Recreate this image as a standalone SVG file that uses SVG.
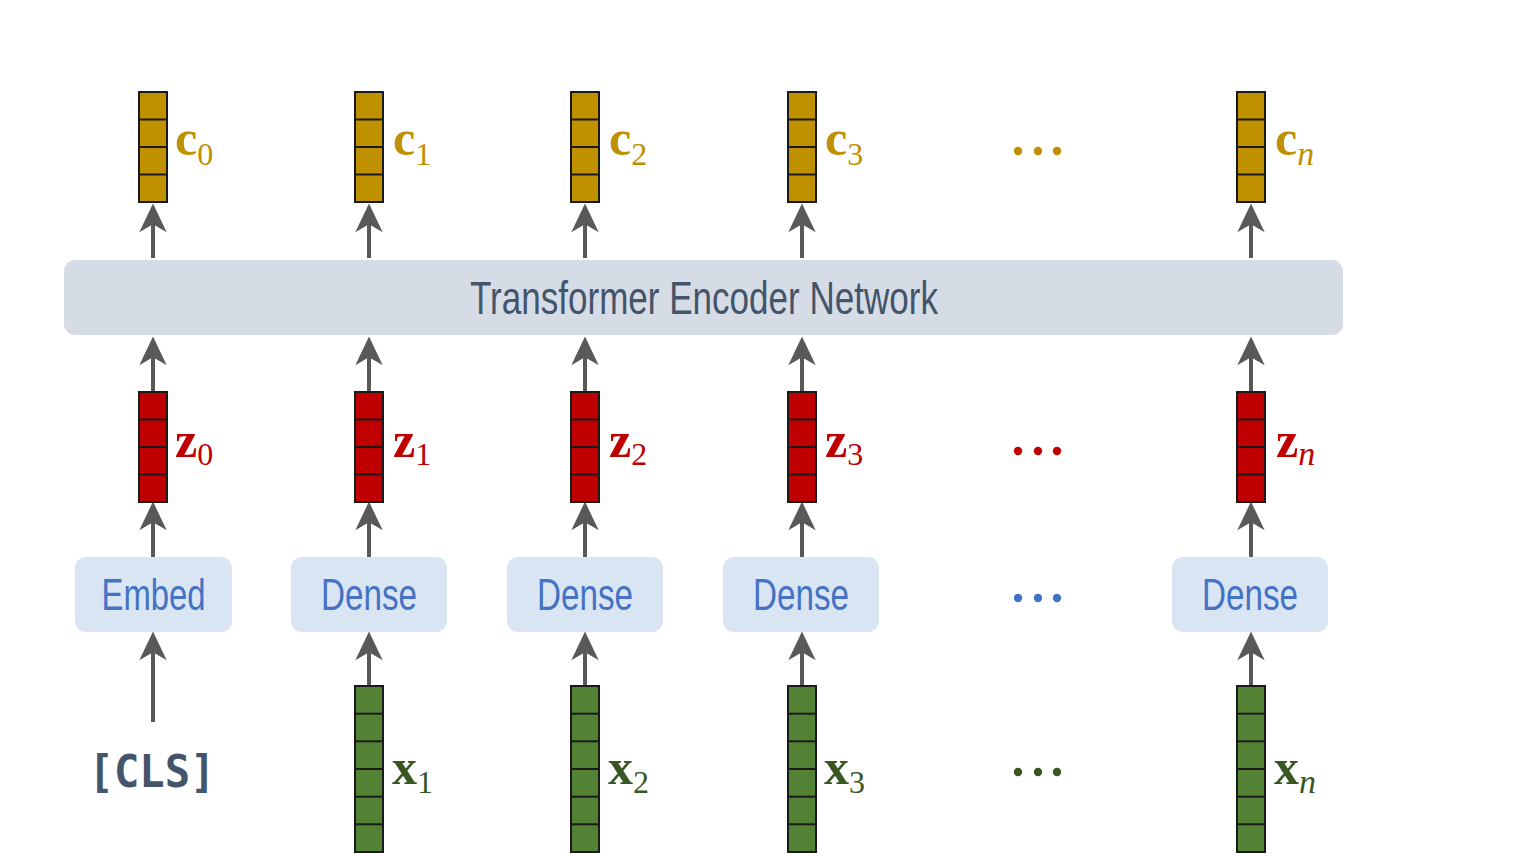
<svg xmlns="http://www.w3.org/2000/svg" width="1536" height="856" viewBox="0 0 1536 856">
<style>
.arrow{stroke:#595959;stroke-width:4;fill:none;marker-end:url(#ah)}
.cvec{fill:#bf9000;stroke:#1a1a1a;stroke-width:2}
.zvec{fill:#c00000;stroke:#1a1a1a;stroke-width:2}
.xvec{fill:#548235;stroke:#1a1a1a;stroke-width:2}
.cell{stroke:#1a1a1a;stroke-width:2}
.lbl{font-family:"Liberation Serif",serif;font-weight:bold;font-size:50px}
.sub{font-family:"Liberation Serif",serif;font-weight:normal;font-size:32px}
.subi{font-family:"Liberation Serif",serif;font-weight:normal;font-style:italic;font-size:34px}
.box{fill:#dae5f4}
.boxtxt{font-family:"Liberation Sans",sans-serif;font-size:44px;fill:#4472c4;text-anchor:middle}
</style>
<defs>
<marker id="ah" markerUnits="userSpaceOnUse" orient="auto" refX="0" refY="0" markerWidth="40" markerHeight="40" viewBox="-20 -15 35 30" overflow="visible">
<path d="M10,0 L-15,-12 L-8,0 L-15,12 Z" fill="#595959"/>
</marker>
<g id="vec4">
<line class="cell" x1="0" y1="27.5" x2="28" y2="27.5"/>
<line class="cell" x1="0" y1="55" x2="28" y2="55"/>
<line class="cell" x1="0" y1="82.5" x2="28" y2="82.5"/>
</g>
<g id="vec6">
<line class="cell" x1="0" y1="27.7" x2="28" y2="27.7"/>
<line class="cell" x1="0" y1="55.3" x2="28" y2="55.3"/>
<line class="cell" x1="0" y1="83" x2="28" y2="83"/>
<line class="cell" x1="0" y1="110.7" x2="28" y2="110.7"/>
<line class="cell" x1="0" y1="138.3" x2="28" y2="138.3"/>
</g>
</defs>
<rect width="1536" height="856" fill="#ffffff"/>

<g id="connectors">
<line class="arrow" x1="153" y1="258" x2="153" y2="215"/>
<line class="arrow" x1="369" y1="258" x2="369" y2="215"/>
<line class="arrow" x1="585" y1="258" x2="585" y2="215"/>
<line class="arrow" x1="802" y1="258" x2="802" y2="215"/>
<line class="arrow" x1="1251" y1="258" x2="1251" y2="215"/>

<line class="arrow" x1="153" y1="392" x2="153" y2="348"/>
<line class="arrow" x1="369" y1="392" x2="369" y2="348"/>
<line class="arrow" x1="585" y1="392" x2="585" y2="348"/>
<line class="arrow" x1="802" y1="392" x2="802" y2="348"/>
<line class="arrow" x1="1251" y1="392" x2="1251" y2="348"/>

<line class="arrow" x1="153" y1="557" x2="153" y2="513"/>
<line class="arrow" x1="369" y1="557" x2="369" y2="513"/>
<line class="arrow" x1="585" y1="557" x2="585" y2="513"/>
<line class="arrow" x1="802" y1="557" x2="802" y2="513"/>
<line class="arrow" x1="1251" y1="557" x2="1251" y2="513"/>

<line class="arrow" x1="153" y1="722" x2="153" y2="643"/>
<line class="arrow" x1="369" y1="686" x2="369" y2="643"/>
<line class="arrow" x1="585" y1="686" x2="585" y2="643"/>
<line class="arrow" x1="802" y1="686" x2="802" y2="643"/>
<line class="arrow" x1="1251" y1="686" x2="1251" y2="643"/>
</g>

<g id="transformer">
<rect x="64" y="260" width="1279" height="75" rx="11" fill="#d6dce5"/>
<text x="704" y="314" font-family="Liberation Sans, sans-serif" font-size="46" fill="#44546a" text-anchor="middle" textLength="468" lengthAdjust="spacingAndGlyphs">Transformer Encoder Network</text>
</g>

<!-- c vectors -->
<g id="c0"><rect class="cvec" x="139" y="92" width="28" height="110"/><use href="#vec4" x="139" y="92"/>
<text class="lbl" x="175" y="155" fill="#bf9000">c<tspan class="sub" dy="10">0</tspan></text></g>
<g id="c1"><rect class="cvec" x="355" y="92" width="28" height="110"/><use href="#vec4" x="355" y="92"/>
<text class="lbl" x="393" y="155" fill="#bf9000">c<tspan class="sub" dy="10">1</tspan></text></g>
<g id="c2"><rect class="cvec" x="571" y="92" width="28" height="110"/><use href="#vec4" x="571" y="92"/>
<text class="lbl" x="609" y="155" fill="#bf9000">c<tspan class="sub" dy="10">2</tspan></text></g>
<g id="c3"><rect class="cvec" x="788" y="92" width="28" height="110"/><use href="#vec4" x="788" y="92"/>
<text class="lbl" x="825" y="155" fill="#bf9000">c<tspan class="sub" dy="10">3</tspan></text></g>
<g id="cn"><rect class="cvec" x="1237" y="92" width="28" height="110"/><use href="#vec4" x="1237" y="92"/>
<text class="lbl" x="1275" y="155" fill="#bf9000">c<tspan class="subi" dy="10">n</tspan></text></g>
<g id="cdots" fill="#bf9000"><circle cx="1018" cy="151" r="4.2"/><circle cx="1038" cy="151" r="4.2"/><circle cx="1057" cy="151" r="4.2"/></g>

<!-- z vectors -->
<g id="z0"><rect class="zvec" x="139" y="392" width="28" height="110"/><use href="#vec4" x="139" y="392"/>
<text class="lbl" x="175" y="457" fill="#c00000">z<tspan class="sub" dy="8">0</tspan></text></g>
<g id="z1"><rect class="zvec" x="355" y="392" width="28" height="110"/><use href="#vec4" x="355" y="392"/>
<text class="lbl" x="393" y="457" fill="#c00000">z<tspan class="sub" dy="8">1</tspan></text></g>
<g id="z2"><rect class="zvec" x="571" y="392" width="28" height="110"/><use href="#vec4" x="571" y="392"/>
<text class="lbl" x="609" y="457" fill="#c00000">z<tspan class="sub" dy="8">2</tspan></text></g>
<g id="z3"><rect class="zvec" x="788" y="392" width="28" height="110"/><use href="#vec4" x="788" y="392"/>
<text class="lbl" x="825" y="457" fill="#c00000">z<tspan class="sub" dy="8">3</tspan></text></g>
<g id="zn"><rect class="zvec" x="1237" y="392" width="28" height="110"/><use href="#vec4" x="1237" y="392"/>
<text class="lbl" x="1276" y="457" fill="#c00000">z<tspan class="subi" dy="8">n</tspan></text></g>
<g id="zdots" fill="#c00000"><circle cx="1018" cy="451" r="4.2"/><circle cx="1038" cy="451" r="4.2"/><circle cx="1057" cy="451" r="4.2"/></g>

<!-- embed / dense boxes -->
<g id="embed"><rect class="box" x="75" y="557" width="157" height="75" rx="11"/><text class="boxtxt" x="153.5" y="610" textLength="104" lengthAdjust="spacingAndGlyphs">Embed</text></g>
<g id="dense1"><rect class="box" x="291" y="557" width="156" height="75" rx="11"/><text class="boxtxt" x="369" y="610" textLength="96" lengthAdjust="spacingAndGlyphs">Dense</text></g>
<g id="dense2"><rect class="box" x="507" y="557" width="156" height="75" rx="11"/><text class="boxtxt" x="585" y="610" textLength="96" lengthAdjust="spacingAndGlyphs">Dense</text></g>
<g id="dense3"><rect class="box" x="723" y="557" width="156" height="75" rx="11"/><text class="boxtxt" x="801" y="610" textLength="96" lengthAdjust="spacingAndGlyphs">Dense</text></g>
<g id="densen"><rect class="box" x="1172" y="557" width="156" height="75" rx="11"/><text class="boxtxt" x="1250" y="610" textLength="96" lengthAdjust="spacingAndGlyphs">Dense</text></g>
<g id="bdots" fill="#4472c4"><circle cx="1018" cy="598" r="4.2"/><circle cx="1038" cy="598" r="4.2"/><circle cx="1057" cy="598" r="4.2"/></g>

<!-- inputs -->
<g id="cls"><text x="152" y="787" font-family="DejaVu Sans Mono, monospace" font-weight="bold" font-size="44" fill="#44546a" text-anchor="middle" textLength="127" lengthAdjust="spacingAndGlyphs">[CLS]</text></g>
<g id="x1"><rect class="xvec" x="355" y="686" width="28" height="166"/><use href="#vec6" x="355" y="686"/>
<text class="lbl" x="392" y="784" fill="#385723">x<tspan class="sub" dy="9">1</tspan></text></g>
<g id="x2"><rect class="xvec" x="571" y="686" width="28" height="166"/><use href="#vec6" x="571" y="686"/>
<text class="lbl" x="608" y="784" fill="#385723">x<tspan class="sub" dy="9">2</tspan></text></g>
<g id="x3"><rect class="xvec" x="788" y="686" width="28" height="166"/><use href="#vec6" x="788" y="686"/>
<text class="lbl" x="824" y="784" fill="#385723">x<tspan class="sub" dy="9">3</tspan></text></g>
<g id="xn"><rect class="xvec" x="1237" y="686" width="28" height="166"/><use href="#vec6" x="1237" y="686"/>
<text class="lbl" x="1274" y="784" fill="#385723">x<tspan class="subi" dy="9">n</tspan></text></g>
<g id="xdots" fill="#385723"><circle cx="1018" cy="772" r="4.2"/><circle cx="1038" cy="772" r="4.2"/><circle cx="1057" cy="772" r="4.2"/></g>
</svg>
